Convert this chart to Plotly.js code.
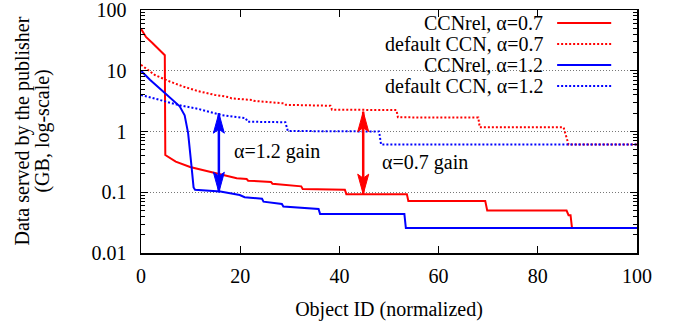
<!DOCTYPE html>
<html><head><meta charset="utf-8">
<script src="https://cdn.plot.ly/plotly-3.0.1.min.js"></script>
<style>html,body{margin:0;padding:0;background:#fff;}#chart{width:678px;height:322px;}</style>
</head><body><div id="chart"></div>
<script>
// CCNrel, alpha=0.7 (red solid)
const relA07X = [0, 1.0, 2.3, 3.7, 4.5, 4.8, 4.9, 7.0, 9.9, 14.5, 19.3, 21.3, 21.6, 26.2, 26.5, 32.3, 32.6, 41.1, 41.4, 53.6, 53.9, 69.4, 69.8, 85.8, 86.2, 86.6, 86.9, 100];
const relA07Y = [49, 36, 28.7, 22, 18.5, 18.0, 0.41, 0.32, 0.26, 0.21, 0.17, 0.165, 0.155, 0.148, 0.138, 0.125, 0.113, 0.11, 0.093, 0.093, 0.072, 0.072, 0.05, 0.05, 0.042, 0.042, 0.0257, 0.0257];
// default CCN, alpha=0.7 (red dotted)
const defA07X = [0, 0.3, 2.8, 5.9, 8.5, 11.6, 14.9, 17.6, 18.3, 22.4, 22.7, 28.9, 29.2, 38.2, 38.5, 51.5, 51.8, 68.0, 68.3, 85.2, 86.2, 100];
const defA07Y = [12.5, 12.0, 8.5, 6.6, 5.5, 4.6, 4.0, 3.7, 3.5, 3.3, 3.2, 2.9, 2.75, 2.65, 2.29, 2.25, 1.71, 1.7, 1.17, 1.17, 0.61, 0.61];
// CCNrel, alpha=1.2 (blue solid)
const relA12X = [0, 1.8, 4.8, 6.5, 7.8, 8.8, 9.5, 10.2, 10.6, 10.9, 16.0, 19.9, 20.9, 24.4, 24.7, 28.4, 28.7, 35.8, 36.1, 53.1, 53.4, 100];
const relA12Y = [10.0, 7.1, 4.3, 3.3, 2.6, 1.85, 0.94, 0.26, 0.12, 0.11, 0.103, 0.09, 0.083, 0.078, 0.070, 0.064, 0.058, 0.053, 0.044, 0.044, 0.0257, 0.0257];
// default CCN, alpha=1.2 (blue dotted)
const defA12X = [0, 3.8, 7.8, 11.6, 14.9, 16.3, 21.1, 21.5, 29.1, 29.6, 48.0, 48.4, 100];
const defA12Y = [4.0, 3.3, 2.7, 2.35, 2.0, 1.86, 1.66, 1.45, 1.42, 1.02, 1.0, 0.61, 0.61];

const seriesNames = ["CCNrel, α=0.7", "default CCN, α=0.7", "CCNrel, α=1.2", "default CCN, α=1.2"];
// gain arrows: x position, lower value, upper value
const gainX = [15.7, 44.8];
const gainLow = [0.1, 0.093];
const gainHigh = [2.0, 2.12];
const gainLabels = ["α=1.2 gain", "α=0.7 gain"];
const gainLabelX = [27.4, 57.3];
const gainLabelY = [0.46, 0.31];
const yTitleLines = ["Data served by the publisher", "(GB, log-scale)"];

const RED = '#ff0000', BLUE = '#0000ff';
const FONT = 'Liberation Serif, Times New Roman, serif';

const traces = [
  {x: relA07X, y: relA07Y, name: seriesNames[0], mode: 'lines', line: {color: RED, width: 2}},
  {x: defA07X, y: defA07Y, name: seriesNames[1], mode: 'lines', line: {color: RED, width: 2, dash: '2px,2px'}},
  {x: relA12X, y: relA12Y, name: seriesNames[2], mode: 'lines', line: {color: BLUE, width: 2}},
  {x: defA12X, y: defA12Y, name: seriesNames[3], mode: 'lines', line: {color: BLUE, width: 2, dash: '2px,2px'}}
];
const styles = [traces[0].line, traces[1].line, traces[2].line, traces[3].line];

const annotations = [];
const shapes = [];
// white box behind legend hiding grid
shapes.push({type: 'rect', xref: 'paper', yref: 'paper', x0: 0.41, x1: 0.968, y0: 0.66, y1: 0.985,
  fillcolor: '#ffffff', line: {width: 0}, layer: 'between'});
const rowY = [0.9465, 0.860, 0.774, 0.687];
for (let i = 0; i < 4; i++) {
  annotations.push({xref: 'paper', yref: 'paper', x: 0.8145, y: rowY[i], xanchor: 'right', yanchor: 'middle',
    text: seriesNames[i], showarrow: false, font: {family: FONT, size: 20, color: '#000'}});
  shapes.push({type: 'line', xref: 'paper', yref: 'paper', x0: 0.839, x1: 0.948, y0: rowY[i], y1: rowY[i],
    line: {color: styles[i].color, width: 2, dash: styles[i].dash || 'solid'}});
}
const gainColors = [BLUE, RED];
for (let i = 0; i < 2; i++) {
  // shaft
  shapes.push({type: 'line', xref: 'x', yref: 'y', x0: gainX[i], x1: gainX[i],
    y0: gainLow[i], y1: gainHigh[i], line: {color: gainColors[i], width: 2.5}, layer: 'above'});
  // heads (pixel-sized, anchored at the tips)
  shapes.push({type: 'path', xref: 'x', yref: 'y', xsizemode: 'pixel', ysizemode: 'pixel',
    xanchor: gainX[i], yanchor: gainHigh[i], path: 'M0,0L-5.5,-20L0,-16L5.5,-20Z',
    fillcolor: gainColors[i], line: {color: gainColors[i], width: 1}, layer: 'above'});
  shapes.push({type: 'path', xref: 'x', yref: 'y', xsizemode: 'pixel', ysizemode: 'pixel',
    xanchor: gainX[i], yanchor: gainLow[i], path: 'M0,0L-5.5,20L0,16L5.5,20Z',
    fillcolor: gainColors[i], line: {color: gainColors[i], width: 1}, layer: 'above'});
  annotations.push({xref: 'x', yref: 'y', x: gainLabelX[i], y: Math.log10(gainLabelY[i]), text: gainLabels[i],
    showarrow: false, xanchor: 'center', yanchor: 'middle', font: {family: FONT, size: 20, color: '#000'}});
}
const yTitleX = [-0.2399, -0.1995];
for (let i = 0; i < 2; i++) {
  annotations.push({xref: 'paper', yref: 'paper', x: yTitleX[i], y: 0.5, xanchor: 'center', yanchor: 'middle',
    textangle: -90, text: yTitleLines[i], showarrow: false, font: {family: FONT, size: 20, color: '#000'}});
}

const layout = {
  width: 678, height: 322,
  margin: {l: 141, r: 41, t: 10, b: 69},
  paper_bgcolor: '#fff', plot_bgcolor: '#fff',
  showlegend: false,
  font: {family: FONT, size: 20, color: '#000'},
  xaxis: {range: [0, 100], dtick: 20, ticks: 'inside', ticklen: 7, tickcolor: '#000', showline: true, linecolor: '#000', linewidth: 1.5,
    mirror: 'ticks', showgrid: false, zeroline: false, tickfont: {family: FONT, size: 20}, ticklabelstandoff: 4,
    ticklabeloverflow: 'allow',
    title: {text: 'Object ID (normalized)', font: {family: FONT, size: 20}, standoff: 16}},
  yaxis: {type: 'log', range: [-2, 2], dtick: 1, ticks: 'inside', ticklen: 7, tickcolor: '#000', showline: true, linecolor: '#000', linewidth: 1.5,
    mirror: 'ticks', showgrid: true, gridcolor: '#777', griddash: '1px,2px', gridwidth: 1, zeroline: false,
    minor: {ticks: 'inside', ticklen: 4, dtick: 'D1', tickcolor: '#000', showgrid: false},
    tickfont: {family: FONT, size: 20}, ticklabelstandoff: 9, ticklabeloverflow: 'allow'},
  annotations: annotations,
  shapes: shapes
};
Plotly.newPlot('chart', traces, layout, {displayModeBar: false, staticPlot: true});
</script></body></html>
